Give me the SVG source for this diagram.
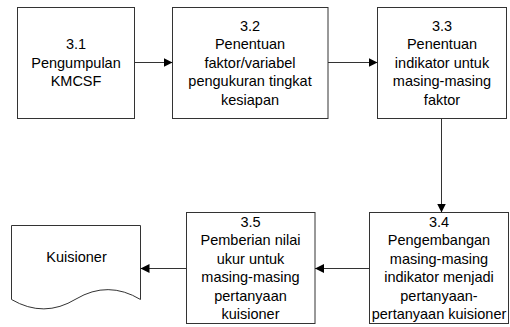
<svg xmlns="http://www.w3.org/2000/svg" width="510" height="327" viewBox="0 0 510 327">
<defs>
<style>
.box{fill:#fff;stroke:#333;stroke-width:1}
.t{font-family:"Liberation Sans",Arial,sans-serif;font-size:14.5px;fill:#000;text-anchor:middle}
.c{fill:none;stroke:#333;stroke-width:1}
</style>
<marker id="ah" markerUnits="userSpaceOnUse" markerWidth="10" markerHeight="10" refX="9" refY="4.5" orient="auto">
<path d="M0,0 L9,4.5 L0,9 Z" fill="#000"/>
</marker>
</defs>
<rect width="510" height="327" fill="#fff"/>
<g id="n31">
<rect class="box" x="17.5" y="7.5" width="117" height="111"/>
<text class="t" x="76" y="49">3.1</text>
<text class="t" x="76" y="67.5">Pengumpulan</text>
<text class="t" x="76" y="86">KMCSF</text>
</g>
<g id="n32">
<rect class="box" x="172.5" y="7.5" width="155.5" height="111"/>
<text class="t" x="250" y="30.5">3.2</text>
<text class="t" x="250" y="49">Penentuan</text>
<text class="t" x="250" y="67.5">faktor/variabel</text>
<text class="t" x="250" y="86">pengukuran tingkat</text>
<text class="t" x="250" y="104.5">kesiapan</text>
</g>
<g id="n33">
<rect class="box" x="377.5" y="7.5" width="129" height="111"/>
<text class="t" x="442" y="30.5">3.3</text>
<text class="t" x="442" y="49">Penentuan</text>
<text class="t" x="442" y="67.5">indikator untuk</text>
<text class="t" x="442" y="86">masing-masing</text>
<text class="t" x="442" y="104.5">faktor</text>
</g>
<g id="n34">
<rect class="box" x="369.5" y="212.5" width="139" height="111"/>
<text class="t" x="439" y="226.75">3.4</text>
<text class="t" x="439" y="245.25">Pengembangan</text>
<text class="t" x="439" y="263.75">masing-masing</text>
<text class="t" x="439" y="282.25">indikator menjadi</text>
<text class="t" x="439" y="300.75">pertanyaan-</text>
<text class="t" x="439" y="319.25">pertanyaan kuisioner</text>
</g>
<g id="n35">
<rect class="box" x="186.5" y="212.5" width="128.5" height="111"/>
<text class="t" x="250.5" y="226.75">3.5</text>
<text class="t" x="250.5" y="245.25">Pemberian nilai</text>
<text class="t" x="250.5" y="263.75">ukur untuk</text>
<text class="t" x="250.5" y="282.25">masing-masing</text>
<text class="t" x="250.5" y="300.75">pertanyaan</text>
<text class="t" x="250.5" y="319.25">kuisioner</text>
</g>
<g id="doc">
<path class="box" d="M11.5,225.5 H140.5 V299.5 Q108,280 76,299 Q44,318.5 11.5,299.5 Z"/>
<text class="t" x="76.5" y="262">Kuisioner</text>
</g>
<g id="connectors">
<line class="c" x1="134.5" y1="62.5" x2="172.5" y2="62.5" marker-end="url(#ah)"/>
<line class="c" x1="328" y1="62.5" x2="377.5" y2="62.5" marker-end="url(#ah)"/>
<line class="c" x1="441.5" y1="118.5" x2="441.5" y2="212.5" marker-end="url(#ah)"/>
<line class="c" x1="369.5" y1="268.5" x2="315" y2="268.5" marker-end="url(#ah)"/>
<line class="c" x1="186.5" y1="268.5" x2="140.5" y2="268.5" marker-end="url(#ah)"/>
</g>
</svg>
